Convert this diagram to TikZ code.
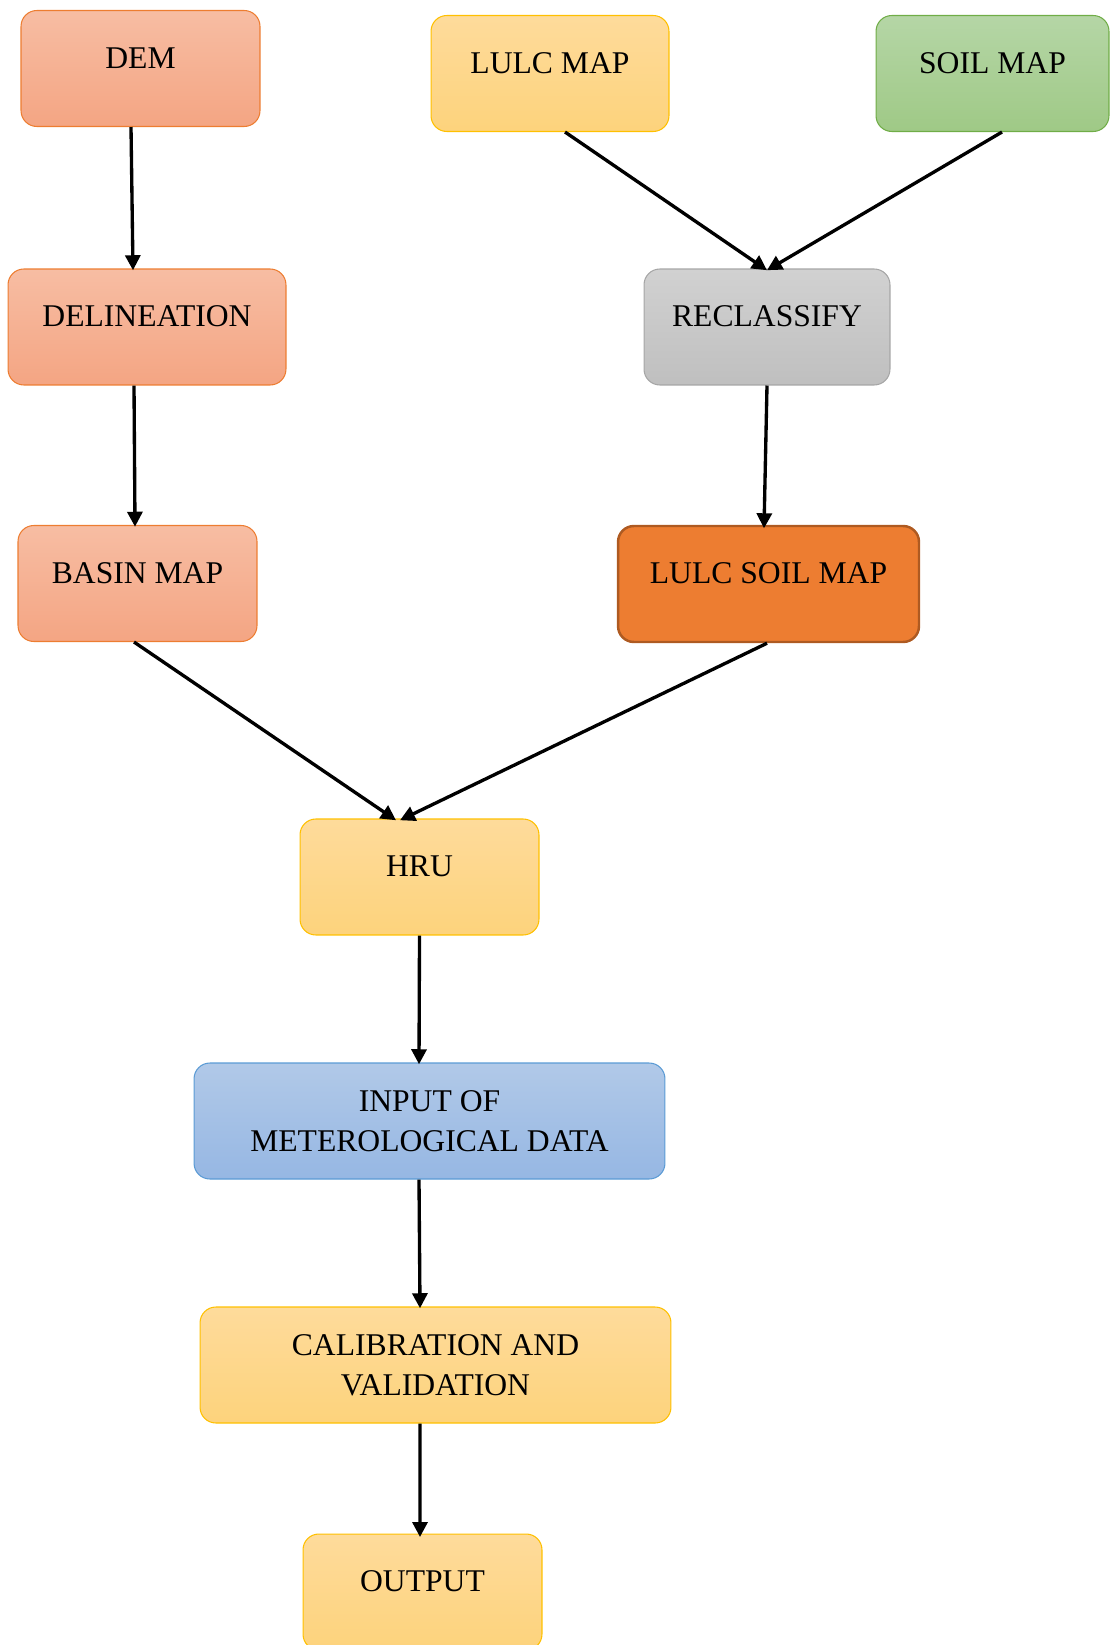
\documentclass[tikz,border=0pt]{standalone}
\usepackage{fontspec}
\setmainfont{Liberation Serif}
\usetikzlibrary{arrows.meta,positioning}

\definecolor{red0}{HTML}{ED7D31}
\definecolor{red1}{HTML}{F7BDA3}
\definecolor{red2}{HTML}{F4A583}
\definecolor{gold0}{HTML}{FFC000}
\definecolor{gold1}{HTML}{FEDB9B}
\definecolor{gold2}{HTML}{FDD37C}
\definecolor{green0}{HTML}{70AD47}
\definecolor{green1}{HTML}{B5D6A6}
\definecolor{green2}{HTML}{9FC986}
\definecolor{blue0}{HTML}{5B9BD5}
\definecolor{blue1}{HTML}{B1C9E8}
\definecolor{blue2}{HTML}{96B7E3}
\definecolor{dark0}{HTML}{AE5A21}

\begin{document}
\begin{tikzpicture}[x=0.02cm,y=-0.02cm,
  box/.style={rounded corners=9pt,minimum width=4.78cm,minimum height=2.32cm,
              inner sep=2pt,font=\fontsize{18}{22.8}\selectfont,line width=0.6pt},
  onebox/.style={box,text depth=12pt},
  twobox/.style={box,align=center,minimum width=9.42cm},
  redbox/.style={onebox,draw=red0,top color=red1,bottom color=red2},
  goldbox/.style={draw=gold0,top color=gold1,bottom color=gold2},
  greenbox/.style={onebox,draw=green0,top color=green1,bottom color=green2},
  graybox/.style={onebox,draw=black!35,top color=black!18,bottom color=black!25},
  bluebox/.style={twobox,draw=blue0,top color=blue1,bottom color=blue2},
  darkbox/.style={onebox,draw=dark0,fill=red0,line width=1.4pt},
  arr/.style={-{Triangle[length=3mm,width=3mm]},line width=1.9pt,draw=black}
]
\useasboundingbox (0,0) rectangle (1110,1645);

% inputs
\node[redbox] (dem) at (140.5,68.5) {DEM};
\node[goldbox,onebox,minimum width=4.76cm] (lulc) at (550,73.5) {LULC MAP};
\node[greenbox,minimum width=4.66cm] (soil) at (992.5,73.5) {SOIL MAP};

\node[redbox,minimum width=5.56cm] (delin) at (147,327) {DELINEATION};
\node[graybox,minimum width=4.92cm] (recl) at (767,327) {RECLASSIFY};

\node[redbox] (basin) at (137.5,583.5) {BASIN MAP};
\node[darkbox,minimum width=6.02cm] (lsoil) at (768.5,584) {LULC SOIL MAP};

\node[goldbox,onebox] (hru) at (419.5,877) {HRU};
\node[bluebox] (input) at (429.5,1121) {INPUT OF\\METEROLOGICAL DATA};
\node[goldbox,twobox] (calib) at (435.5,1365) {CALIBRATION AND\\VALIDATION};
\node[goldbox,onebox] (output) at (422.5,1592) {OUTPUT};

\draw[arr] ([xshift=-0.19cm]dem.south)--([xshift=-0.28cm,yshift=-1pt]delin.north);
\draw[arr] ([xshift=-0.26cm]delin.south)--([xshift=-0.05cm,yshift=-1pt]basin.north);
\draw[arr] ([xshift=0.30cm]lulc.south)--([yshift=-1pt]recl.north);
\draw[arr] ([xshift=0.19cm]soil.south)--([yshift=-1pt]recl.north);
\draw[arr] (recl.south)--([xshift=-0.09cm,yshift=-2pt]lsoil.north);
\draw[arr] ([xshift=-0.07cm]basin.south)--([xshift=-0.47cm,yshift=-1pt]hru.north);
\draw[arr] ([xshift=-0.03cm]lsoil.south)--([xshift=-0.39cm,yshift=-1pt]hru.north);
\draw[arr] (hru.south)--([xshift=-0.21cm,yshift=-1pt]input.north);
\draw[arr] ([xshift=-0.21cm]input.south)--([xshift=-0.31cm,yshift=-1pt]calib.north);
\draw[arr] ([xshift=-0.31cm]calib.south)--([xshift=-0.05cm,yshift=-2pt]output.north);
\end{tikzpicture}
\end{document}
